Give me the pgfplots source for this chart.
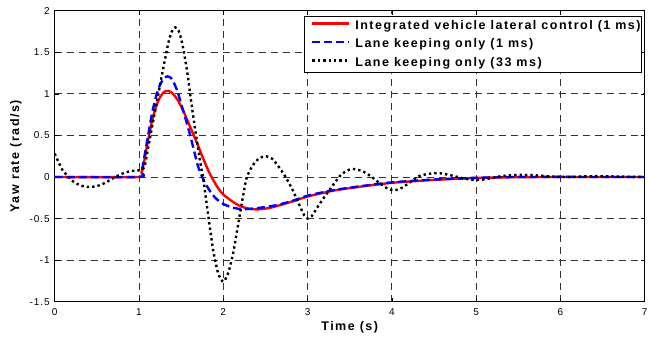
\documentclass[border=0pt]{standalone}
\usepackage{fontspec}
\setmainfont{Liberation Sans}
\newfontfamily\labfont[LetterSpace=12]{Liberation Sans}
\newfontfamily\tickfontfam[LetterSpace=9]{Liberation Sans}
\usepackage{pgfplots}
\pgfplotsset{compat=1.18}
\begin{document}
\begin{tikzpicture}[x=1pt,y=1pt]
\begin{axis}[
  at={(54.7pt,36.3pt)}, anchor=south west,
  scale only axis, width=590pt, height=291pt,
  xmin=0, xmax=7, ymin=-1.5, ymax=2,
  xtick={0,1,2,3,4,5,6,7},
  ytick={-1.5,-1,-0.5,0,0.5,1,1.5,2},
  xticklabels={0,1,2,3,4,5,6,7},
  yticklabels={-1.5,-1,-0.5,0,0.5,1,1.5,2},
  tick align=inside, major tick length=4pt,
  tick style={black, line width=0.6pt},
  axis line style={line width=1.1pt},
  grid=major,
  grid style={black!80, line width=0.8pt, dash pattern=on 7pt off 5pt},
  ticklabel style={font=\tickfontfam\fontsize{10}{11}\selectfont},
  xticklabel style={yshift=-3.5pt},
  yticklabel style={xshift=-1.5pt},
  xlabel={Time (s)}, ylabel={Yaw rate (rad/s)},
  label style={font=\labfont\bfseries\fontsize{12.5}{13}\selectfont},
  xlabel style={at={(axis description cs:0.5,0)}, anchor=base, yshift=-29pt},
  ylabel style={at={(axis description cs:-0.0605,0.5)}, anchor=base, rotate=0},
  legend style={at={(rel axis cs:1,1)}, anchor=north east, xshift=-2.7pt, yshift=-5pt,
    draw=black, line width=0.8pt, fill=white, inner xsep=1pt, inner ysep=3.5pt,
    font=\labfont\bfseries\fontsize{12.5}{13}\selectfont,
    nodes={inner sep=0pt, text height=9.5pt, text depth=2.5pt},
    row sep=6.5pt, column sep=4.7pt, cells={anchor=west}},
  legend image code/.code={\path (0pt,0pt); \draw[#1] (5.7pt,2pt) -- (42.7pt,2pt);},
]
\addplot[red, line width=2.4pt, smooth, tension=0.4] coordinates {
(0,0) (1,0) (1.03,0.05) (1.06,0.18) (1.1,0.40) (1.15,0.65) (1.2,0.84) (1.25,0.96)
(1.3,1.025) (1.35,1.035) (1.4,1.005) (1.45,0.94) (1.5,0.85) (1.55,0.74) (1.6,0.62)
(1.65,0.50) (1.7,0.38) (1.75,0.25) (1.8,0.13) (1.85,0.02) (1.9,-0.07) (1.95,-0.15)
(2.0,-0.21) (2.1,-0.29) (2.2,-0.35) (2.3,-0.38) (2.4,-0.39) (2.5,-0.38) (2.6,-0.36)
(2.8,-0.30) (3.0,-0.235) (3.3,-0.165) (3.6,-0.12) (4.0,-0.07) (4.5,-0.035)
(5.0,-0.012) (5.5,-0.002) (6,0) (7,0)
};
\addlegendentry{Integrated vehicle lateral control (1 ms)}
\addplot[blue, line width=2.4pt, dash pattern=on 8pt off 4pt, smooth, tension=0.4] coordinates {
(0,0) (1,0) (1.03,0.06) (1.06,0.22) (1.1,0.45) (1.15,0.74) (1.2,0.96) (1.25,1.11)
(1.3,1.19) (1.34,1.21) (1.38,1.19) (1.42,1.12) (1.46,1.02) (1.5,0.88) (1.55,0.71)
(1.6,0.53) (1.65,0.33) (1.7,0.13) (1.75,0.0) (1.8,-0.1) (1.85,-0.18) (1.9,-0.245)
(1.95,-0.29) (2.0,-0.325) (2.1,-0.365) (2.2,-0.385) (2.3,-0.385) (2.4,-0.375)
(2.6,-0.345) (2.8,-0.295) (3.0,-0.225) (3.3,-0.16) (3.6,-0.115) (4.0,-0.065)
(4.5,-0.03) (5.0,-0.01) (5.5,0) (7,0)
};
\addlegendentry{Lane keeping only (1 ms)}
\addplot[black, line width=2.4pt, dash pattern=on 2.4pt off 3pt, smooth, tension=0.4] coordinates {
(0,0.28) (0.05,0.17) (0.1,0.07) (0.16,0.01) (0.2,-0.04) (0.3,-0.1) (0.4,-0.12)
(0.5,-0.11) (0.6,-0.07) (0.7,-0.01) (0.8,0.04) (0.9,0.07) (1.0,0.08) (1.04,0.09)
(1.07,0.14) (1.11,0.36) (1.17,0.68) (1.23,1.0) (1.29,1.32) (1.35,1.62) (1.39,1.75)
(1.43,1.80) (1.47,1.76) (1.51,1.62) (1.57,1.28) (1.62,0.9) (1.68,0.48) (1.74,0.1)
(1.76,0) (1.82,-0.45) (1.88,-0.88) (1.94,-1.16) (2.0,-1.26) (2.06,-1.15)
(2.12,-0.9) (2.18,-0.55) (2.24,-0.2) (2.28,0.0) (2.35,0.14) (2.42,0.22) (2.5,0.25)
(2.58,0.22) (2.66,0.12) (2.74,0.0) (2.82,-0.15) (2.9,-0.33) (2.96,-0.46) (3.0,-0.5)
(3.05,-0.47) (3.12,-0.36) (3.2,-0.24) (3.3,-0.1) (3.4,0.03) (3.5,0.09) (3.56,0.095)
(3.65,0.07) (3.75,0.01) (3.85,-0.07) (3.95,-0.14) (4.03,-0.16) (4.12,-0.13)
(4.22,-0.06) (4.32,0.01) (4.45,0.04) (4.57,0.045) (4.7,0.02) (4.82,-0.01)
(4.95,-0.035) (5.05,-0.035) (5.15,-0.02) (5.3,0.01) (5.5,0.025) (5.7,0.02)
(5.9,0.005) (6.1,0) (6.4,0.01) (6.7,0.005) (7,0)
};
\addlegendentry{Lane keeping only (33 ms)}
\end{axis}
\pgfresetboundingbox
\path[use as bounding box] (0,0) rectangle (648,338);
\end{tikzpicture}
\end{document}
